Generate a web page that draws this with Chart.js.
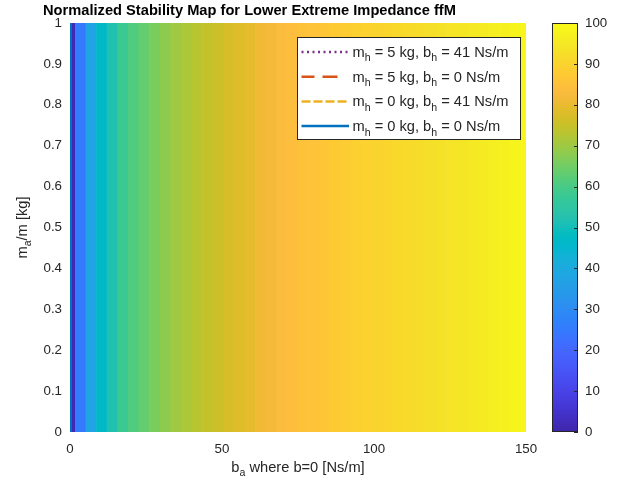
<!DOCTYPE html>
<html><head><meta charset="utf-8">
<script src="https://cdn.jsdelivr.net/npm/chart.js@4/dist/chart.umd.min.js"></script>
<style>
html,body{margin:0;padding:0;background:#fff;}
#wrap{position:relative;width:623px;height:494px;overflow:hidden;}
#main{position:absolute;left:0;top:0;}
#cb{position:absolute;left:540px;top:0;}
</style></head><body>
<div id="wrap"><canvas id="main" width="623" height="494"></canvas><canvas id="cb" width="83" height="494"></canvas></div>
<script>
// ---------------- data ----------------
const titleText = 'Normalized Stability Map for Lower Extreme Impedance ffM';
const baCenters = [0, 3.49, 6.98, 10.47, 13.95, 17.44, 20.93, 24.42, 27.91, 31.4, 34.88, 38.37, 41.86, 45.35, 48.84, 52.33, 55.81, 59.3, 62.79, 66.28, 69.77, 73.26, 76.74, 80.23, 83.72, 87.21, 90.7, 94.19, 97.67, 101.16, 104.65, 108.14, 111.63, 115.12, 118.6, 122.09, 125.58, 129.07, 132.56, 136.05, 139.53, 143.02, 146.51, 150];
const stabilityValues = [1.5, 25, 38, 47, 52, 58, 61, 63.5, 66, 68, 70, 71.5, 73, 74.5, 75.5, 77, 78, 79.5, 81, 82, 83.5, 84, 85, 85.5, 86.5, 87.5, 88, 89, 89.5, 90, 90.5, 91, 91.5, 92, 92.7, 93.3, 94, 94.6, 95.2, 95.9, 96.5, 97.1, 97.8, 98.4];
const massRange = [0, 1];
const xTicks = [0, 50, 100, 150];
const yTicks = [0, 0.1, 0.2, 0.3, 0.4, 0.5, 0.6, 0.7, 0.8, 0.9, 1];
const cbRange = [0, 100];
const cbTicks = [0, 10, 20, 30, 40, 50, 60, 70, 80, 90, 100];
const seriesNames = [
  [['m'],['h',1],[' = 5 kg, b'],['h',1],[' = 41 Ns/m']],
  [['m'],['h',1],[' = 5 kg, b'],['h',1],[' = 0 Ns/m']],
  [['m'],['h',1],[' = 0 kg, b'],['h',1],[' = 41 Ns/m']],
  [['m'],['h',1],[' = 0 kg, b'],['h',1],[' = 0 Ns/m']]
];
const seriesLabels = ['m_h = 5 kg, b_h = 41 Ns/m','m_h = 5 kg, b_h = 0 Ns/m','m_h = 0 kg, b_h = 41 Ns/m','m_h = 0 kg, b_h = 0 Ns/m'];
const seriesX = [[0, 0], [0, 0], [0, 0], [0, 0]];
const seriesY = [[0, 1], [0, 1], [0, 1], [0, 1]];
const xLabel = [['b'],['a',1],[' where b=0 [Ns/m]']];
const yLabel = [['m'],['a',1],['/m [kg]']];

// ---------------- style ----------------
const FONT = '"Liberation Sans", Arial, Helvetica, sans-serif';
const TXT = '#262626';
const seriesStyle = [
  {color:'#7E2F8E', dash:[2,3.5], width:2.5},
  {color:'#D95319', dash:[13,8,15,40], width:2.5},
  {color:'#EDB120', dash:[9,3], width:2.5},
  {color:'#0072BD', dash:[], width:2.5}
];
const PARULA = [[0.2422,0.1504,0.6603],[0.2504,0.1650,0.7076],[0.2578,0.1818,0.7511],[0.2647,0.1978,0.7952],[0.2706,0.2147,0.8364],[0.2751,0.2342,0.8710],[0.2783,0.2559,0.8991],[0.2803,0.2782,0.9221],[0.2813,0.3006,0.9414],[0.2810,0.3228,0.9579],[0.2795,0.3447,0.9717],[0.2760,0.3667,0.9829],[0.2699,0.3892,0.9906],[0.2602,0.4123,0.9952],[0.2440,0.4358,0.9988],[0.2206,0.4603,0.9973],[0.1963,0.4847,0.9892],[0.1834,0.5074,0.9798],[0.1786,0.5289,0.9682],[0.1764,0.5499,0.9520],[0.1687,0.5703,0.9359],[0.1540,0.5902,0.9218],[0.1460,0.6091,0.9079],[0.1380,0.6276,0.8973],[0.1248,0.6459,0.8883],[0.1113,0.6635,0.8763],[0.0952,0.6798,0.8598],[0.0689,0.6948,0.8394],[0.0297,0.7082,0.8163],[0.0036,0.7203,0.7917],[0.0067,0.7312,0.7660],[0.0433,0.7411,0.7394],[0.0964,0.7500,0.7120],[0.1408,0.7584,0.6842],[0.1717,0.7670,0.6554],[0.1938,0.7758,0.6251],[0.2161,0.7843,0.5923],[0.2470,0.7918,0.5567],[0.2906,0.7973,0.5188],[0.3406,0.8008,0.4789],[0.3909,0.8029,0.4354],[0.4456,0.8024,0.3909],[0.5044,0.7993,0.3480],[0.5616,0.7942,0.3045],[0.6174,0.7876,0.2612],[0.6720,0.7793,0.2227],[0.7242,0.7698,0.1910],[0.7738,0.7598,0.1646],[0.8203,0.7498,0.1535],[0.8634,0.7406,0.1596],[0.9035,0.7330,0.1774],[0.9393,0.7288,0.2100],[0.9728,0.7298,0.2394],[0.9956,0.7434,0.2371],[0.9970,0.7659,0.2199],[0.9952,0.7893,0.2028],[0.9892,0.8136,0.1885],[0.9786,0.8386,0.1766],[0.9676,0.8639,0.1643],[0.9610,0.8890,0.1537],[0.9597,0.9135,0.1423],[0.9628,0.9373,0.1265],[0.9691,0.9606,0.1064],[0.9769,0.9839,0.0805]];
function rgb(c){return 'rgb('+Math.round(c[0]*255)+','+Math.round(c[1]*255)+','+Math.round(c[2]*255)+')';}
function parula(v){
  const t = Math.max(0, Math.min(1, (v - cbRange[0])/(cbRange[1]-cbRange[0]))) * (PARULA.length-1);
  const i = Math.floor(t), f = t - i;
  const a = PARULA[i], b = PARULA[Math.min(i+1, PARULA.length-1)];
  return rgb([a[0]+(b[0]-a[0])*f, a[1]+(b[1]-a[1])*f, a[2]+(b[2]-a[2])*f]);
}
function fontStr(size, bold){return (bold?'bold ':'') + size + 'px ' + FONT;}
function richWidth(ctx, segs, size){
  let w = 0;
  segs.forEach(s => { ctx.font = fontStr(s[1] ? size*0.72 : size); w += ctx.measureText(s[0]).width; });
  return w;
}
function drawRich(ctx, segs, x, y, size, align){
  const w = richWidth(ctx, segs, size);
  let cx = align === 'center' ? x - w/2 : x;
  ctx.textAlign = 'left'; ctx.textBaseline = 'alphabetic';
  segs.forEach(s => {
    const sz = s[1] ? size*0.72 : size;
    ctx.font = fontStr(sz);
    ctx.fillText(s[0], cx, s[1] ? y + size*0.3 : y);
    cx += ctx.measureText(s[0]).width;
  });
}

const annotPlugin = {
  id: 'annot',
  afterDraw(chart){
    const ctx = chart.ctx, a = chart.chartArea;
    ctx.save();
    ctx.fillStyle = TXT;
    drawRich(ctx, xLabel, (a.left + a.right)/2, 472, 14.67, 'center');
    ctx.save();
    ctx.translate(27, (a.top + a.bottom)/2);
    ctx.rotate(-Math.PI/2);
    drawRich(ctx, yLabel, 0, 0, 14.67, 'center');
    ctx.restore();
    const bw = 223, bh = 102;
    const bx = a.right - 6 - bw, by = a.top + 14;
    ctx.fillStyle = '#fff';
    ctx.fillRect(bx, by, bw, bh);
    ctx.strokeStyle = TXT; ctx.lineWidth = 1;
    ctx.strokeRect(Math.round(bx)+0.5, Math.round(by)+0.5, bw, bh);
    for (let i = 0; i < seriesNames.length; i++){
      const cy = by + 15 + i*24.7;
      const st = seriesStyle[i];
      ctx.beginPath();
      ctx.setLineDash(st.dash);
      ctx.lineDashOffset = 0;
      ctx.strokeStyle = st.color; ctx.lineWidth = st.width; ctx.lineCap = 'butt';
      ctx.moveTo(bx + 4.5, cy); ctx.lineTo(bx + 52, cy); ctx.stroke();
      ctx.setLineDash([]);
      ctx.fillStyle = TXT;
      drawRich(ctx, seriesNames[i], bx + 55.5, cy + 5, 14.67, 'left');
    }
    ctx.restore();
  }
};

const datasets = [{
  type: 'bar',
  label: 'stability',
  data: baCenters.map((x) => ({x: x, y: [massRange[0], massRange[1]]})),
  backgroundColor: stabilityValues.map(parula),
  borderWidth: 0,
  barPercentage: 1.06,
  categoryPercentage: 1,
  clip: 0,
  order: 10
}];
for (let i = 0; i < seriesX.length; i++){
  datasets.push({
    type: 'line',
    label: seriesLabels[i],
    data: seriesX[i].map((x, j) => ({x: x, y: seriesY[i][j]})),
    borderColor: seriesStyle[i].color,
    borderWidth: 4,
    borderDash: seriesStyle[i].dash,
    pointRadius: 0,
    fill: false,
    clip: 0,
    order: 4 - i
  });
}

new Chart(document.getElementById('main'), {
  type: 'bar',
  data: {datasets: datasets},
  options: {
    responsive: false, animation: false, events: [],
    layout: {padding: {left: 43, right: 97, top: 0, bottom: 0}},
    plugins: {
      legend: {display: false},
      tooltip: {enabled: false},
      title: {display: true, text: titleText, align: 'start', color: '#000',
        font: {family: FONT, size: 14.67, weight: 'bold'}, padding: {top: 2, bottom: 3.4}}
    },
    scales: {
      x: {type: 'linear', min: 0, max: 150, offset: false,
        grid: {display: false, drawTicks: false}, border: {display: false},
        afterBuildTicks: s => { s.ticks = xTicks.map(v => ({value: v})); },
        afterFit: s => { s.height = 62; },
        ticks: {font: {family: FONT, size: 13.3}, color: TXT, padding: 9, maxRotation: 0, autoSkip: false}},
      y: {type: 'linear', min: 0, max: 1,
        grid: {display: false, drawTicks: false}, border: {display: false},
        afterBuildTicks: s => { s.ticks = yTicks.map(v => ({value: v})); },
        afterFit: s => { s.width = 27; },
        ticks: {font: {family: FONT, size: 13.3}, color: TXT, padding: 8, autoSkip: false,
          callback: v => String(v)}}
    }
  },
  plugins: [annotPlugin]
});

const cbPlugin = {
  id: 'cbframe',
  afterDatasetsDraw(chart){
    const ctx = chart.ctx, a = chart.chartArea, ys = chart.scales.y;
    ctx.save();
    ctx.strokeStyle = TXT; ctx.lineWidth = 1;
    ctx.strokeRect(Math.round(a.left)+0.5, Math.round(a.top)+0.5, Math.round(a.right-a.left)-1, Math.round(a.bottom-a.top)-1);
    ctx.beginPath();
    cbTicks.forEach(v => {
      const y = Math.round(ys.getPixelForValue(v)) + 0.5;
      ctx.moveTo(a.right - 4, y); ctx.lineTo(a.right, y);
    });
    ctx.stroke();
    ctx.restore();
  }
};

new Chart(document.getElementById('cb'), {
  type: 'bar',
  data: {labels: ['colorbar'], datasets: [{
    label: 'colorbar',
    data: [cbRange],
    backgroundColor: (c) => {
      const ch = c.chart, a = ch.chartArea;
      if (!a) return parula(50);
      const ys = ch.scales.y;
      const g = ch.ctx.createLinearGradient(0, ys.getPixelForValue(cbRange[0]), 0, ys.getPixelForValue(cbRange[1]));
      for (let k = 0; k < PARULA.length; k++) g.addColorStop(k/(PARULA.length-1), rgb(PARULA[k]));
      return g;
    },
    borderWidth: 0, barPercentage: 1, categoryPercentage: 1
  }]},
  options: {
    responsive: false, animation: false, events: [],
    layout: {padding: {left: 12, right: 0, top: 23, bottom: 62}},
    plugins: {legend: {display: false}, tooltip: {enabled: false}, title: {display: false}},
    scales: {
      x: {display: false},
      y: {position: 'right', min: cbRange[0], max: cbRange[1],
        grid: {display: false, drawTicks: false}, border: {display: false},
        afterBuildTicks: s => { s.ticks = cbTicks.map(v => ({value: v})); },
        afterFit: s => { s.width = 45; },
        ticks: {font: {family: FONT, size: 13.3}, color: TXT, padding: 7, autoSkip: false}}
    }
  },
  plugins: [cbPlugin]
});
</script>
</body></html>
